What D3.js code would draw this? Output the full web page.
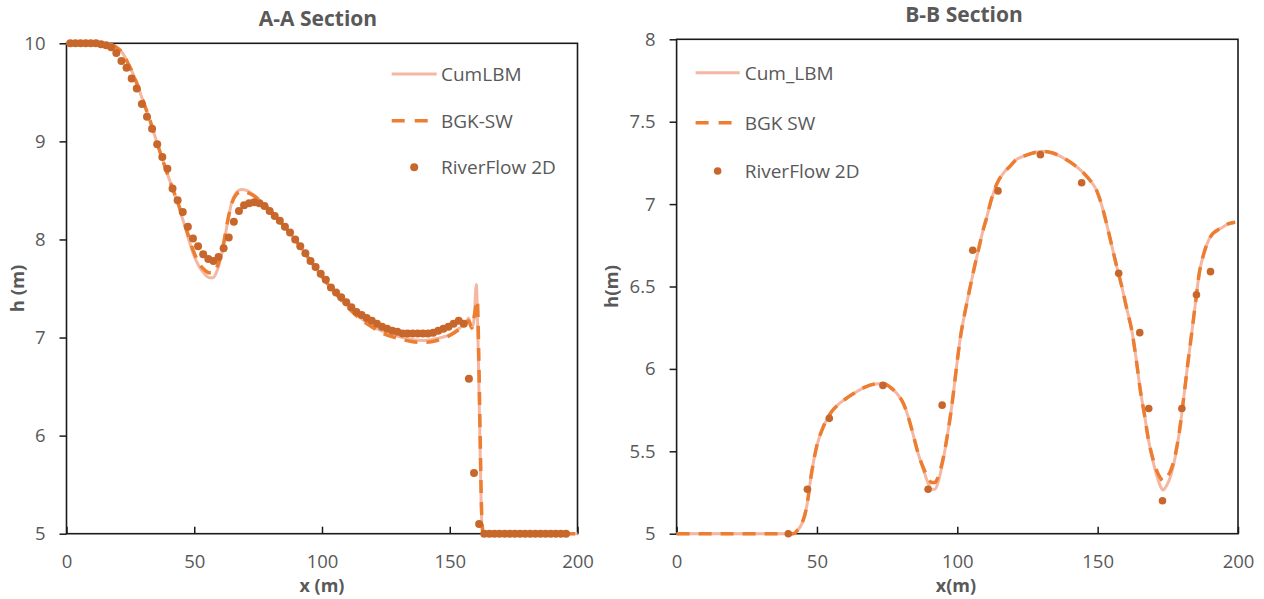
<!DOCTYPE html>
<html>
<head>
<meta charset="utf-8">
<script src="https://cdn.jsdelivr.net/npm/d3@7"></script>
<style>
  body { margin: 0; background: #fff; }
  text { font-family: "Open Sans", sans-serif; fill: #595959; }
</style>
</head>
<body>
<div id="chart"></div>
<script>
// ---- DATA: A-A section ----
const aaCumLBM = [[0,10],[8,10],[14,10],[17,9.99],[19.5,9.96],[22,9.9],[24,9.8],[26.2,9.68],[28.5,9.52],[30.7,9.36],[33,9.19],[35,9.02],[37,8.86],[39.2,8.69],[41.5,8.52],[43.8,8.35],[45.8,8.18],[47.7,8.01],[49.7,7.85],[51.8,7.73],[54,7.65],[56,7.61],[57.3,7.61],[58.6,7.66],[60,7.77],[61.4,7.93],[63,8.17],[64.7,8.38],[66.5,8.48],[68.5,8.51],[70.5,8.5],[73,8.46],[76,8.39],[80,8.29],[85,8.14],[90,7.98],[95,7.8],[100,7.62],[105,7.46],[110,7.32],[115,7.2],[120,7.11],[125,7.05],[130,7.01],[135,6.98],[140,6.97],[145,6.99],[150,7.03],[154,7.1],[156.2,7.15],[157.4,7.2],[158.6,7.09],[159.5,7.18],[160.4,7.54],[161.0,7.05],[161.7,6.1],[162.3,5.3],[162.8,5.02],[163.5,5],[200,5]];
const aaBGK = [[0,10],[8,10],[14,10],[17,9.99],[19.5,9.96],[22,9.9],[24,9.8],[26.2,9.68],[28.5,9.52],[30.7,9.36],[33,9.19],[35,9.02],[37,8.86],[39.2,8.69],[41.5,8.52],[43.8,8.36],[45.8,8.2],[47.7,8.04],[49.7,7.88],[51.8,7.76],[54,7.69],[56,7.66],[57.3,7.66],[58.6,7.7],[60,7.8],[61.4,7.95],[63,8.18],[64.7,8.37],[66.5,8.46],[68.5,8.49],[70.5,8.48],[73,8.45],[76,8.39],[80,8.29],[85,8.14],[90,7.98],[95,7.8],[100,7.62],[105,7.46],[110,7.31],[115,7.19],[120,7.1],[125,7.03],[130,6.99],[135,6.96],[140,6.95],[145,6.97],[150,7.02],[154,7.09],[156.2,7.14],[157.4,7.17],[158.6,7.1],[159.8,7.25],[160.8,7.38],[161.3,6.9],[161.9,6.0],[162.5,5.2],[163,5.02],[163.6,5],[200,5]];
const aaRiverX = [1.5,3.5,5.5,7.5,9.5,11.5,13.5,15.5,17.5,19.5,21.5,23.5,25.5,27.5,29.5,31.5,33.5,35.5,37.5,39.5,41.5,43.5,45.5,47.5,49.5,51.5,53.5,55.5,57.5,59.5,61.5,63.5,65.5,67.5,69.5,71.5,73.5,75.5,77.5,79.5,81.5,83.5,85.5,87.5,89.5,91.5,93.5,95.5,97.5,99.5,101.5,103.5,105.5,107.5,109.5,111.5,113.5,115.5,117.5,119.5,121.5,123.5,125.5,127.5,129.5,131.5,133.5,135.5,137.5,139.5,141.5,143.5,145.5,147.5,149.5,151.5,153.5,155.5,157.5,159.5,161.5,163.5,165.5,167.5,169.5,171.5,173.5,175.5,177.5,179.5,181.5,183.5,185.5,187.5,189.5,191.5,193.5,195.5];
const aaRiverH = [10,10,10,10,10,10,9.99,9.98,9.96,9.9,9.82,9.75,9.64,9.54,9.38,9.25,9.13,8.97,8.84,8.72,8.52,8.4,8.28,8.13,8.01,7.93,7.85,7.8,7.78,7.82,7.91,8.02,8.18,8.29,8.35,8.37,8.38,8.37,8.34,8.29,8.24,8.19,8.13,8.07,8,7.93,7.86,7.78,7.72,7.65,7.59,7.51,7.46,7.41,7.36,7.31,7.26,7.23,7.2,7.17,7.14,7.11,7.09,7.07,7.06,7.04,7.04,7.04,7.04,7.04,7.04,7.05,7.07,7.09,7.11,7.14,7.17,7.14,6.58,5.62,5.1,5,5,5,5,5,5,5,5,5,5,5,5,5,5,5,5,5];

// ---- DATA: B-B section ----
const bbCumLBM = [[0,5],[38,5],[41.6,5],[43,5.02],[44.6,5.06],[46.3,5.16],[48.1,5.37],[49.9,5.53],[52.3,5.65],[55.2,5.74],[58,5.79],[61.2,5.83],[64,5.86],[67.1,5.89],[71.9,5.91],[74,5.91],[76,5.89],[78.5,5.85],[80.8,5.79],[82.5,5.71],[84.3,5.6],[86,5.49],[87.9,5.39],[89.5,5.31],[90.9,5.27],[92,5.27],[93.3,5.32],[95,5.45],[96.5,5.6],[98,5.77],[99.5,5.98],[101,6.18],[102.8,6.35],[104.5,6.49],[106,6.61],[107.5,6.72],[109,6.83],[110.5,6.92],[112,7.02],[114,7.12],[116.5,7.19],[118.8,7.23],[121,7.27],[123.5,7.29],[127,7.31],[130.6,7.32],[134,7.31],[137.8,7.28],[141.5,7.24],[144.9,7.19],[147.5,7.14],[149.7,7.08],[151.5,6.99],[153.2,6.88],[155,6.75],[156.8,6.62],[158.6,6.5],[160.3,6.37],[162.2,6.23],[163.8,6.05],[165.2,5.87],[166.7,5.72],[168.1,5.57],[169.6,5.45],[171.1,5.35],[172.3,5.29],[173.3,5.265],[174.5,5.29],[176.2,5.36],[177.8,5.48],[179.2,5.63],[180.7,5.83],[182.1,6.03],[183.6,6.23],[185,6.42],[186.2,6.58],[187.5,6.68],[189,6.76],[190.5,6.81],[192.5,6.84],[194.6,6.86],[196.5,6.88],[199,6.89]];
const bbBGK = [[0,5],[38,5],[41.6,5],[43,5.02],[44.6,5.06],[46.3,5.16],[48.1,5.37],[49.9,5.53],[52.3,5.65],[55.2,5.74],[58,5.79],[61.2,5.83],[64,5.86],[67.1,5.89],[71.9,5.91],[74,5.91],[76,5.89],[78.5,5.85],[80.8,5.79],[82.5,5.71],[84.3,5.6],[86,5.49],[87.9,5.4],[89.5,5.34],[90.9,5.31],[92,5.31],[93.3,5.35],[95,5.46],[96.5,5.6],[98,5.77],[99.5,5.98],[101,6.18],[102.8,6.35],[104.5,6.49],[106,6.61],[107.5,6.72],[109,6.83],[110.5,6.92],[112,7.02],[114,7.12],[116.5,7.19],[118.8,7.23],[121,7.27],[123.5,7.29],[127,7.31],[130.6,7.32],[134,7.31],[137.8,7.28],[141.5,7.24],[144.9,7.19],[147.5,7.14],[149.7,7.08],[151.5,6.99],[153.2,6.88],[155,6.75],[156.8,6.62],[158.6,6.5],[160.3,6.37],[162.2,6.23],[163.8,6.05],[165.2,5.87],[166.7,5.72],[168.1,5.57],[169.6,5.46],[171.1,5.38],[172.3,5.34],[173.3,5.32],[174.5,5.34],[176.2,5.39],[177.8,5.49],[179.2,5.63],[180.7,5.83],[182.1,6.03],[183.6,6.23],[185,6.42],[186.2,6.58],[187.5,6.68],[189,6.76],[190.5,6.81],[192.5,6.84],[194.6,6.86],[196.5,6.88],[199,6.89]];
const bbRiverX = [39.8,46.6,54.4,73.5,89.6,94.6,105.5,114.5,129.6,144.3,157.5,165,168.2,173.1,180,185.2,190.2];
const bbRiverH = [5,5.27,5.7,5.9,5.27,5.78,6.72,7.08,7.3,7.13,6.58,6.22,5.76,5.2,5.76,6.45,6.59];

// ---- TICKS / LABELS ----
const xTicks = [0, 50, 100, 150, 200];
const aaYTicks = [5, 6, 7, 8, 9, 10];
const bbYTicks = [5, 5.5, 6, 6.5, 7, 7.5, 8];
const aaLegend = ["CumLBM", "BGK-SW", "RiverFlow 2D"];
const bbLegend = ["Cum_LBM", "BGK SW", "RiverFlow 2D"];

const colCum = "#F5B7A1", colBGK = "#ED7D31", colDot = "#C8672B";

const svg = d3.select("#chart").append("svg")
    .attr("width", 1264)
    .attr("height", 599);

function drawPanel(p) {
    const x = d3.scaleLinear().domain([0, 200]).range([p.left, p.right]);
    const y = d3.scaleLinear().domain(p.yDomain).range([p.bottom, p.top]);
    const g = svg.append("g");

    // y axis (ticks outside)
    const ya = g.append("g")
        .attr("transform", `translate(${p.left},0)`)
        .call(d3.axisLeft(y).tickValues(p.yTicks).tickSize(7).tickSizeOuter(0).tickPadding(14).tickFormat(d3.format("~g")));
    // x axis (ticks inside)
    const xa = g.append("g")
        .attr("transform", `translate(0,${p.bottom})`)
        .call(d3.axisBottom(x).tickValues(xTicks).tickSize(-7).tickSizeOuter(0).tickPadding(21));
    [ya, xa].forEach(a => {
        a.select(".domain").remove();
        a.selectAll("line").attr("stroke", "#1a1a1a").attr("stroke-width", 1.5);
        a.selectAll("text").style("font-size", "18.5px").attr("fill", "#595959");
    });

    // frame
    g.append("rect")
        .attr("x", p.left).attr("y", p.top)
        .attr("width", p.right - p.left).attr("height", p.bottom - p.top)
        .attr("fill", "none").attr("stroke", "#1a1a1a").attr("stroke-width", 1.6);

    const line = d3.line().x(d => x(d[0])).y(d => y(d[1])).curve(d3.curveMonotoneX);

    g.append("path").datum(p.cum)
        .attr("fill", "none").attr("stroke", colCum).attr("stroke-width", 3)
        .attr("d", line);
    g.append("path").datum(p.bgk)
        .attr("fill", "none").attr("stroke", colBGK).attr("stroke-width", 3.5)
        .attr("stroke-dasharray", "13,9")
        .attr("d", line);
    g.selectAll("circle.dot").data(p.rx)
        .join("circle")
        .attr("class", "dot")
        .attr("cx", d => x(d))
        .attr("cy", (d, i) => y(p.rh[i]))
        .attr("r", p.r)
        .attr("fill", colDot);

    // titles and axis labels
    g.append("text").attr("x", p.titleX).attr("y", p.titleY)
        .attr("text-anchor", "middle").style("font-size", "21px").style("font-weight", "bold")
        .text(p.title);
    g.append("text").attr("x", p.xLabelX).attr("y", 592)
        .attr("text-anchor", "middle").style("font-size", "18px").style("font-weight", "bold")
        .text(p.xLabel);
    g.append("text")
        .attr("transform", `translate(${p.yLabelX},${(p.top + p.bottom) / 2}) rotate(-90)`)
        .attr("text-anchor", "middle").style("font-size", "18.5px").style("font-weight", "bold")
        .text(p.yLabel);

    // legend
    const lg = p.legend;
    lg.rows.forEach((ry, i) => {
        if (i === 0) {
            g.append("line").attr("x1", lg.x1).attr("x2", lg.x2).attr("y1", ry).attr("y2", ry)
                .attr("stroke", colCum).attr("stroke-width", 3);
        } else if (i === 1) {
            g.append("line").attr("x1", lg.x1).attr("x2", lg.x2).attr("y1", ry).attr("y2", ry)
                .attr("stroke", colBGK).attr("stroke-width", 3.5).attr("stroke-dasharray", "13,10");
        } else {
            g.append("circle").attr("cx", (lg.x1 + lg.x2) / 2).attr("cy", ry).attr("r", p.r).attr("fill", colDot);
        }
        g.append("text").attr("x", lg.tx).attr("y", ry).attr("dy", "0.36em")
            .style("font-size", "19px").text(lg.labels[i]);
    });
}

drawPanel({
    left: 66.5, right: 577.5, top: 43.3, bottom: 533.7,
    yDomain: [5, 10], yTicks: aaYTicks,
    cum: aaCumLBM, bgk: aaBGK, rx: aaRiverX, rh: aaRiverH, r: 4,
    title: "A-A Section", titleX: 318, titleY: 26,
    xLabel: "x (m)", xLabelX: 322, yLabel: "h (m)", yLabelX: 24,
    legend: { x1: 391.7, x2: 436.7, tx: 441, rows: [74, 120.7, 167.3], labels: aaLegend }
});

drawPanel({
    left: 676.6, right: 1238, top: 39.3, bottom: 533.7,
    yDomain: [5, 8], yTicks: bbYTicks,
    cum: bbCumLBM, bgk: bbBGK, rx: bbRiverX, rh: bbRiverH, r: 3.8,
    title: "B-B Section", titleX: 964, titleY: 22,
    xLabel: "x(m)", xLabelX: 956, yLabel: "h(m)", yLabelX: 618,
    legend: { x1: 695.6, x2: 739.7, tx: 744.7, rows: [72.7, 122.7, 171], labels: bbLegend }
});
</script>
</body>
</html>
